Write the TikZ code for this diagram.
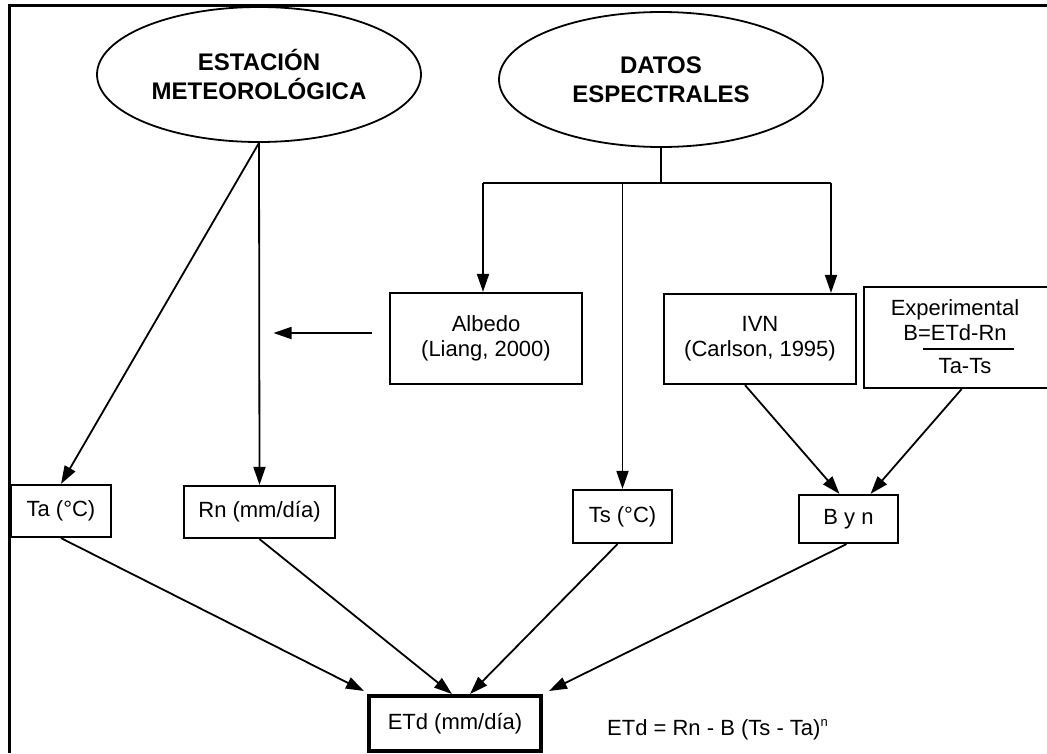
\documentclass[tikz,border=0pt]{standalone}
\usepackage{fontspec}
\setmainfont{Liberation Sans}
\usetikzlibrary{arrows.meta,shapes.geometric,calc}
\begin{document}
\begin{tikzpicture}[x=1pt,y=-1pt,
  every node/.style={font=\fontsize{22}{25}\selectfont, inner sep=0pt},
  ell/.style={draw, ellipse, line width=1.8pt, font=\bfseries\fontsize{24}{29}\selectfont, align=center},
  box/.style={draw, line width=2.2pt, align=center},
  conn/.style={line width=1.8pt},
  arr/.style={line width=1.8pt, -{Triangle[length=18pt,width=12pt]}}]
\useasboundingbox (0,0) rectangle (1047,753);
% frame
\draw[line width=3pt] (8,5) -- (1047,5);
\draw[line width=3pt] (9,5) -- (9,753);
% ellipses
\node[ell, minimum width=324pt, minimum height=135pt] (est) at (259,74.5) {ESTACIÓN\\METEOROLÓGICA};
\node[ell, minimum width=324pt, minimum height=135pt] (dat) at (661,79.5) {DATOS\\ESPECTRALES};
% boxes
\node[box, minimum width=192pt, minimum height=91pt] (alb) at (486,338.5) {Albedo\\(Liang, 2000)};
\node[box, minimum width=192pt, minimum height=90pt] (ivn) at (760,339) {IVN\\(Carlson, 1995)};
\node[box, minimum width=187pt, minimum height=101pt, anchor=west] (exp) at (863,337.5) {};
\node[anchor=base] (expa) at (955,315) {Experimental};
\node[anchor=base] (expb) at (955,340) {B=ETd-Rn};
\node[anchor=base] (expc) at (965,373) {Ta-Ts};
\draw[line width=1.8pt] ($(exp.west)+(60,11.5)$) -- ++(91,0);
\node[box, minimum width=100pt, minimum height=52pt] (ta) at (61,511) {Ta (°C)};
\node[box, minimum width=151pt, minimum height=52pt] (rn) at (259.5,512) {Rn (mm/día)};
\node[box, minimum width=99pt, minimum height=53pt] (ts) at (622.5,516.5) {Ts (°C)};
\node[box, minimum width=99pt, minimum height=48pt] (byn) at (848.5,519) {B y n};
\node[box, line width=4pt, minimum width=172pt, minimum height=55pt] (etd) at (455,723.5) {ETd (mm/día)};
\node[anchor=base west] (eq) at (607,735) {ETd = Rn - B (Ts - Ta)\raisebox{9pt}{\fontsize{13}{13}\selectfont n}};
% tree from DATOS
\coordinate (b0) at (dat.south |- 0,183);
\coordinate (bL) at (483,183);
\coordinate (bR) at (831,183);
\coordinate (bM) at (ts.north |- b0);
\draw[conn] (dat.south) -- (b0);
\draw[conn] (bL) -- (bR);
\draw[arr] (bL) -- (bL |- alb.north);
\draw[arr] (bR) -- (bR |- ivn.north);
\draw[arr] (bM) -- (ts.north);
% from ESTACION
\draw[arr] (est.south) -- (ta.north);
\draw[arr] (est.south) -- (rn.north);
% albedo arrow
\coordinate (alA) at ($(alb.west)+(-17,-5.5)$);
\coordinate (alB) at ($(rn.north |- alA)+(14,0)$);
\draw[arr] (alA) -- (alB);
% to B y n
\draw[arr] ($(ivn.south)+(-15,0)$) -- ($(byn.north)+(-9,0)$);
\draw[arr] ($(exp.south)+(4,0)$) -- ($(byn.north)+(22,0)$);
% to ETd
\draw[arr] (ta.south) -- ($(etd.north west)+(-3,-3)$);
\draw[arr] (rn.south) -- ($(etd.north)+(-3,0)$);
\draw[arr] ($(ts.south)+(-5,0)$) -- ($(etd.north)+(15,0)$);
\draw[arr] ($(byn.south)+(-2,0)$) -- ($(etd.north east)+(6,-3)$);
\end{tikzpicture}
\end{document}
